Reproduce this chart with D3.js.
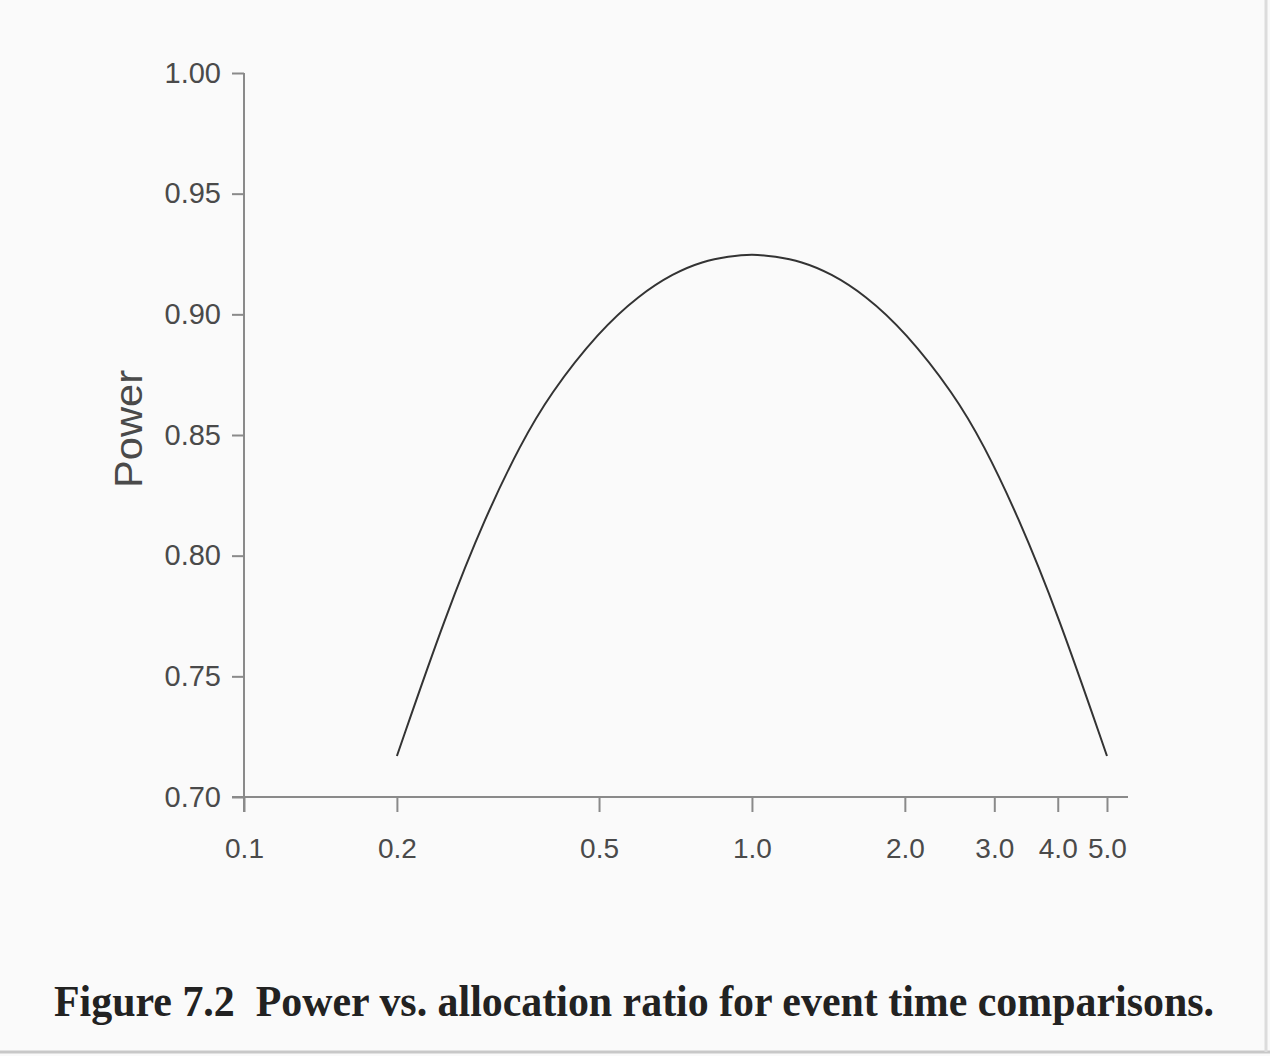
<!DOCTYPE html>
<html>
  <head>
    <title>Power vs. allocation ratio</title>
    <style>
      body { margin: 0; background: #fafafa; }
    </style>
  </head>
  <body>
    <div><svg id='chart'/></div>
  </body>
  <script type="text/javascript" src="https://cdn.jsdelivr.net/npm/d3@7"></script>
  <script type="text/javascript">
    // allocation ratio (x) and power (y)
    const ratios = [0.2, 0.25, 0.3, 0.35, 0.4, 0.5, 0.6, 0.7, 0.8, 0.9, 1.0,
                    1.11, 1.25, 1.43, 1.67, 2.0, 2.5, 2.86, 3.33, 4.0, 5.0];
    const power = [0.717, 0.776, 0.817, 0.846, 0.867, 0.893, 0.908, 0.917, 0.922, 0.924, 0.925,
                   0.924, 0.922, 0.917, 0.908, 0.893, 0.867, 0.846, 0.817, 0.776, 0.717];
    const xTicks = [0.1, 0.2, 0.5, 1.0, 2.0, 3.0, 4.0, 5.0];
    const xTickLabels = ['0.1', '0.2', '0.5', '1.0', '2.0', '3.0', '4.0', '5.0'];
    const yTicks = [0.70, 0.75, 0.80, 0.85, 0.90, 0.95, 1.00];

    const [width, height] = [1270, 1056];
    var svg = d3.select('#chart')
      .attr('width', width)
      .attr('height', height)
      .style('display', 'block')

    svg.append('rect')
      .attr('width', width)
      .attr('height', height)
      .attr('fill', '#fafafa')

    // scanned page edge
    svg.append('line')
      .attr('x1', 0).attr('x2', width)
      .attr('y1', 1052).attr('y2', 1052)
      .attr('stroke', '#c8c8c8').attr('stroke-width', 3)
    svg.append('line')
      .attr('x1', 1266).attr('x2', 1266)
      .attr('y1', 0).attr('y2', 1052)
      .attr('stroke', '#dcdcdc').attr('stroke-width', 3)

    var x = d3.scaleLog()
      .domain([0.1, 5.5])
      .range([244, 1128])

    var y = d3.scaleLinear()
      .domain([0.70, 1.00])
      .range([797, 73])

    var axisColor = '#8a8a8a'
    var textColor = '#4a4a4a'

    // y axis
    var yAxis = svg.append('g')
      .attr('transform', 'translate(244,0)')
      .call(d3.axisLeft(y).tickValues(yTicks).tickSize(12).tickPadding(11)
        .tickFormat(d3.format('.2f')))
    yAxis.select('.domain').attr('stroke', axisColor).attr('stroke-width', 2)
      .attr('d', 'M0,' + y(1.00) + 'V' + (y(0.70) + 15))
    yAxis.selectAll('.tick line').attr('stroke', axisColor).attr('stroke-width', 2)
    yAxis.selectAll('.tick text')
      .attr('fill', textColor)
      .style('font-family', 'Liberation Sans, Arial, sans-serif')
      .style('font-size', '29px')

    // x axis
    var xAxis = svg.append('g')
      .attr('transform', 'translate(0,797)')
      .call(d3.axisBottom(x).tickValues(xTicks).tickSize(15).tickPadding(26)
        .tickFormat((d, i) => xTickLabels[i]))
    xAxis.select('.domain').attr('stroke', axisColor).attr('stroke-width', 2)
      .attr('d', 'M232,0H' + x(5.5))
    xAxis.selectAll('.tick line').attr('stroke', axisColor).attr('stroke-width', 2)
    xAxis.selectAll('.tick text')
      .attr('fill', textColor)
      .style('font-family', 'Liberation Sans, Arial, sans-serif')
      .style('font-size', '28px')

    // curve
    var points = ratios.map((r, i) => ({ x: r, y: power[i] }))
    var line = d3.line()
      .x(d => x(d.x))
      .y(d => y(d.y))
      .curve(d3.curveBasis)

    svg.append('path')
      .datum(points)
      .attr('fill', 'none')
      .attr('stroke', '#333')
      .attr('stroke-width', 2)
      .attr('d', line)

    // y axis title
    svg.append('text')
      .attr('transform', 'translate(142, 429) rotate(-90)')
      .attr('text-anchor', 'middle')
      .attr('fill', textColor)
      .style('font-family', 'Liberation Sans, Arial, sans-serif')
      .style('font-size', '38px')
      .attr('textLength', 118)
      .attr('lengthAdjust', 'spacingAndGlyphs')
      .text('Power')

    // caption
    svg.append('text')
      .attr('x', 54)
      .attr('y', 1016)
      .attr('fill', '#222')
      .style('font-family', 'Liberation Serif, Times New Roman, serif')
      .style('font-weight', 'bold')
      .style('font-size', '44px')
      .style('white-space', 'pre')
      .attr('textLength', 1160)
      .attr('lengthAdjust', 'spacingAndGlyphs')
      .text('Figure 7.2  Power vs. allocation ratio for event time comparisons.')
  </script>
</html>
